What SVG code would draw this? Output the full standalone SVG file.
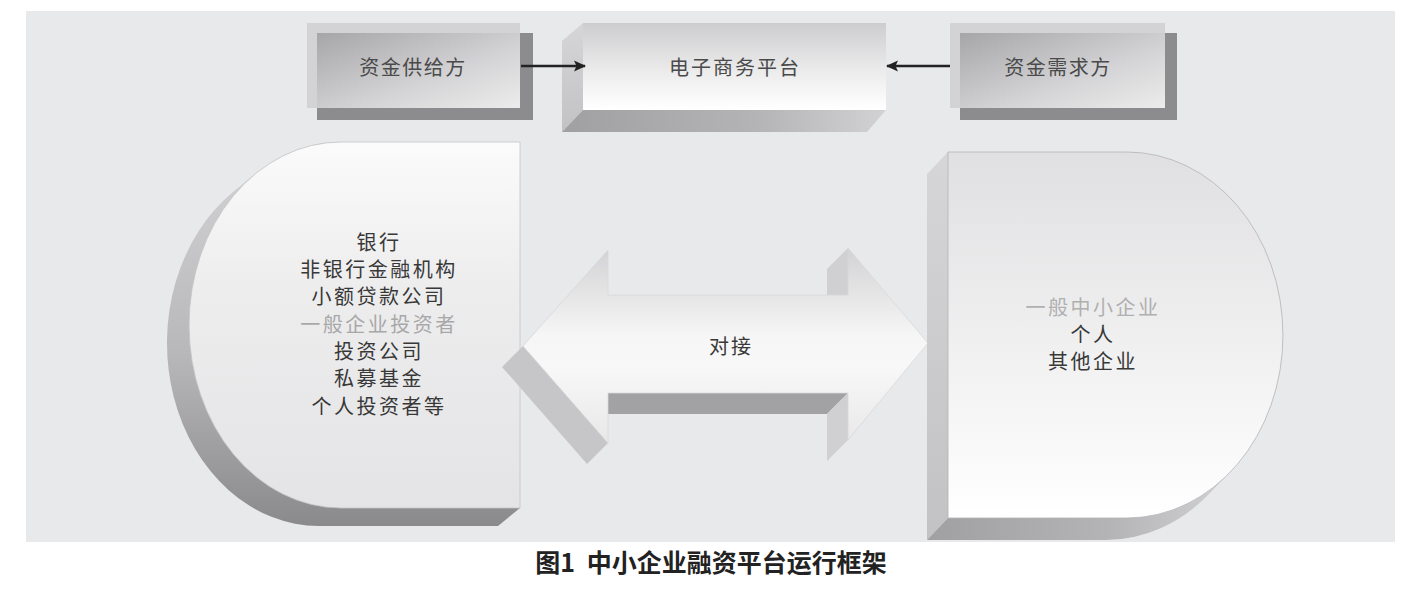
<svg xmlns="http://www.w3.org/2000/svg" width="1416" height="613" viewBox="0 0 1416 613">
<defs>
<style>
.t{font-family:"Noto Sans CJK SC","Noto Sans",sans-serif;text-anchor:middle;}
.box{font-size:20px;fill:#4a4a4a;letter-spacing:1.5px;}
.lst{font-size:20px;fill:#383838;letter-spacing:2.5px;}
.pale{fill:#a8a8a8;}
.cap{font-size:25px;font-weight:bold;fill:#222;}
</style>
<linearGradient id="innerG" x1="0" y1="0" x2="1" y2="1">
<stop offset="0" stop-color="#a6a6a8"/><stop offset="0.6" stop-color="#d4d4d6"/><stop offset="1" stop-color="#ececec"/>
</linearGradient>
<linearGradient id="platG" x1="0" y1="0" x2="0" y2="1">
<stop offset="0" stop-color="#cdcdcf"/><stop offset="0.6" stop-color="#eeeeef"/><stop offset="1" stop-color="#ffffff"/>
</linearGradient>
<linearGradient id="sideG" x1="0" y1="0" x2="0" y2="1">
<stop offset="0" stop-color="#d6d6d8"/><stop offset="1" stop-color="#c2c2c4"/>
</linearGradient>
<linearGradient id="botG" x1="0" y1="0" x2="1" y2="0">
<stop offset="0" stop-color="#a0a0a2"/><stop offset="0.6" stop-color="#b4b4b6"/><stop offset="1" stop-color="#d2d2d4"/>
</linearGradient>
<linearGradient id="leftExG" x1="0" y1="0" x2="0" y2="1">
<stop offset="0" stop-color="#d4d4d6"/><stop offset="0.55" stop-color="#b8b8ba"/><stop offset="1" stop-color="#8a8a8c"/>
</linearGradient>
<linearGradient id="leftFrontG" x1="0" y1="0" x2="0" y2="1">
<stop offset="0" stop-color="#fbfbfb"/><stop offset="0.4" stop-color="#ededee"/><stop offset="1" stop-color="#e4e4e6"/>
</linearGradient>
<linearGradient id="rightFrontG" x1="0" y1="0" x2="0" y2="1">
<stop offset="0" stop-color="#e0e0e2"/><stop offset="0.5" stop-color="#efeff0"/><stop offset="1" stop-color="#ffffff"/>
</linearGradient>
<linearGradient id="arrowG" gradientUnits="userSpaceOnUse" x1="0" y1="248" x2="0" y2="443">
<stop offset="0" stop-color="#d2d2d4"/><stop offset="0.45" stop-color="#f6f6f6"/><stop offset="0.6" stop-color="#f8f8f8"/><stop offset="1" stop-color="#e8e8e8"/>
</linearGradient>
<marker id="ah" viewBox="0 0 12 12" refX="11" refY="6" markerWidth="12" markerHeight="12" markerUnits="userSpaceOnUse" orient="auto">
<path d="M0,0.5 L12,6 L0,11.5 L2.5,6 Z" fill="#222"/>
</marker>
</defs>

<rect x="0" y="0" width="1416" height="613" fill="#ffffff"/>
<rect x="26" y="11" width="1369" height="531" fill="#e8e9eb"/>

<g id="supply">
<rect x="317" y="33" width="216" height="87" fill="#8c8c8e"/>
<rect x="307" y="23" width="213" height="85" fill="#d3d3d5"/>
<rect x="317" y="33" width="203" height="75" fill="url(#innerG)"/>
<text class="t box" x="413" y="75">资金供给方</text>
</g>

<g id="platform">
<polygon points="562,41 583,23 583,110 562,132" fill="url(#sideG)"/>
<polygon points="562,132 583,110 886,110 867,132" fill="url(#botG)"/>
<rect x="583" y="23" width="303" height="87" fill="url(#platG)"/>
<text class="t box" x="735" y="75" style="letter-spacing:2px">电子商务平台</text>
</g>

<g id="demand">
<rect x="960" y="33" width="217" height="87" fill="#8c8c8e"/>
<rect x="950" y="23" width="215" height="85" fill="#d3d3d5"/>
<rect x="960" y="33" width="205" height="75" fill="url(#innerG)"/>
<text class="t box" x="1058" y="75">资金需求方</text>
</g>

<g id="connectors">
<line x1="521" y1="66" x2="585" y2="66" stroke="#222" stroke-width="2.6" marker-end="url(#ah)"/>
<line x1="950" y1="66" x2="887" y2="66" stroke="#222" stroke-width="2.6" marker-end="url(#ah)"/>
</g>

<g id="suppliers">
<path d="M520,142 H341 A152,183 0 0 0 255.6,173.6 L233.6,191.6 A152,183 0 0 0 319,526 H498 L520,508 Z" fill="url(#leftExG)"/>
<path d="M520,142 H341 A152,183 0 0 0 341,508 H520 Z" fill="url(#leftFrontG)" stroke="#c4c4c6" stroke-width="0.8"/>
<text class="t lst" x="379" y="250">银行</text>
<text class="t lst" x="379" y="277">非银行金融机构</text>
<text class="t lst" x="379" y="304">小额贷款公司</text>
<text class="t lst pale" x="379" y="332">一般企业投资者</text>
<text class="t lst" x="379" y="359">投资公司</text>
<text class="t lst" x="379" y="386">私募基金</text>
<text class="t lst" x="379" y="414">个人投资者等</text>
</g>

<g id="match">
<polygon points="523,346 608,443 587,464 502,367" fill="#c6c6c8"/>
<polygon points="848,393 608,393 587,414 827,414" fill="#a2a2a4"/>
<polygon points="848,440 848,393 827,414 827,461" fill="#d0d0d2"/>
<polygon points="848,295 848,248 827,269 827,316" fill="#d0d0d2"/>
<polygon points="523,346 608,250 608,295 848,295 848,248 928,343 848,440 848,393 608,393 608,443" fill="url(#arrowG)" stroke="#d8d8da" stroke-width="0.8"/>
<text class="t lst" x="731" y="354" style="letter-spacing:2px">对接</text>
</g>

<g id="demanders">
<polygon points="927,174 948,152 948,518 927,540" fill="url(#sideG)"/>
<path d="M948,518 H1127 A156,183 0 0 0 1231,471 L1210,493 A156,183 0 0 1 1106,540 H927 Z" fill="url(#botG)"/>
<path d="M948,152 H1127 A156,183 0 0 1 1127,518 H948 Z" fill="url(#rightFrontG)" stroke="#b4b4b6" stroke-width="0.8"/>
<text class="t lst pale" x="1093" y="315" style="fill:#b0b0b0">一般中小企业</text>
<text class="t lst" x="1093" y="342">个人</text>
<text class="t lst" x="1093" y="369">其他企业</text>
</g>

<g id="caption">
<text class="t cap" x="711" y="572">图1 <tspan dx="6">中小企业融资平台运行框架</tspan></text>
</g>
</svg>
